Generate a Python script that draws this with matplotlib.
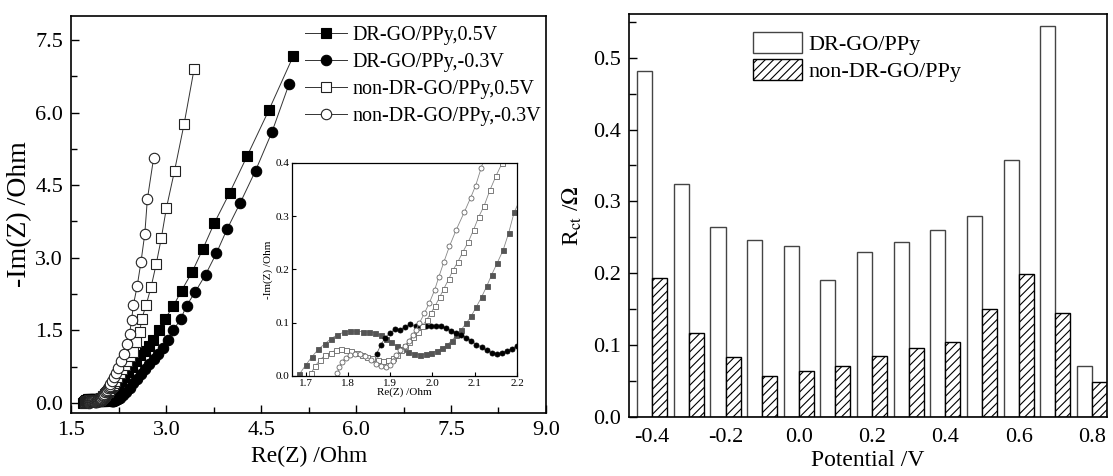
import numpy as np
import matplotlib
matplotlib.use('Agg')
import matplotlib.pyplot as plt

plt.rcParams['font.family'] = ['Liberation Serif', 'DejaVu Serif']
plt.rcParams['mathtext.fontset'] = 'stix'
plt.rcParams['axes.unicode_minus'] = False
plt.rcParams['hatch.linewidth'] = 0.8

# ---- left panel: Nyquist data (Re(Z), -Im(Z)) ----
dr_05_x = [1.685, 1.70, 1.715, 1.73, 1.745, 1.76, 1.775, 1.79, 1.805, 1.82, 1.835, 1.85, 1.865,
           1.878, 1.89, 1.902, 1.915, 1.928, 1.942, 1.956, 1.97, 1.984, 1.997, 2.01, 2.022, 2.034,
           2.045, 2.056, 2.068, 2.08, 2.092, 2.104, 2.116, 2.128, 2.14, 2.153, 2.167, 2.18, 2.193,
           2.23, 2.28, 2.33, 2.39, 2.45, 2.52, 2.59, 2.66, 2.72,
           2.79, 2.88, 2.98, 3.11, 3.24, 3.41, 3.58, 3.76, 4.00, 4.28, 4.62, 5.01]
dr_05_y = [0.003, 0.02, 0.036, 0.05, 0.06, 0.07, 0.077, 0.082, 0.084, 0.084, 0.083, 0.082, 0.081,
           0.076, 0.070, 0.063, 0.056, 0.050, 0.045, 0.042, 0.040, 0.041, 0.043, 0.047, 0.052, 0.058,
           0.066, 0.076, 0.087, 0.099, 0.113, 0.130, 0.148, 0.168, 0.190, 0.212, 0.236, 0.268, 0.307,
           0.37, 0.45, 0.54, 0.64, 0.74, 0.86, 0.98, 1.08, 1.18,
           1.30, 1.50, 1.74, 2.00, 2.32, 2.71, 3.19, 3.72, 4.34, 5.11, 6.05, 7.18]

dr_m03_x = [1.868, 1.878, 1.888, 1.900, 1.912, 1.924, 1.936, 1.948, 1.960, 1.972, 1.984, 1.996,
            2.008, 2.020, 2.032, 2.044, 2.056, 2.068, 2.080, 2.092, 2.104, 2.116, 2.128, 2.140,
            2.152, 2.164, 2.176, 2.188, 2.200,
            2.23, 2.27, 2.32, 2.37, 2.42, 2.48, 2.54, 2.60, 2.66, 2.73, 2.80, 2.87, 2.94,
            3.03, 3.11, 3.23, 3.32, 3.46, 3.62, 3.79, 3.96, 4.17, 4.41, 4.67, 4.94]
dr_m03_y = [0.042, 0.058, 0.072, 0.081, 0.088, 0.087, 0.092, 0.097, 0.093, 0.094, 0.094, 0.094,
            0.094, 0.093, 0.090, 0.085, 0.081, 0.077, 0.072, 0.066, 0.059, 0.054, 0.048, 0.044,
            0.042, 0.043, 0.047, 0.051, 0.057,
            0.07, 0.10, 0.16, 0.23, 0.31, 0.40, 0.50, 0.60, 0.70, 0.80, 0.90, 1.01, 1.14,
            1.30, 1.50, 1.74, 2.01, 2.30, 2.65, 3.09, 3.59, 4.14, 4.80, 5.60, 6.59]

non_05_x = [1.713, 1.722, 1.734, 1.746, 1.759, 1.771, 1.784, 1.796, 1.808, 1.821, 1.833, 1.845,
            1.858, 1.870, 1.882, 1.895, 1.906, 1.915, 1.925, 1.936, 1.944, 1.955, 1.965, 1.975,
            1.986, 1.996, 2.006, 2.017, 2.027, 2.038, 2.048, 2.060, 2.072, 2.085, 2.097, 2.109,
            2.122, 2.136, 2.150, 2.165,
            2.19, 2.22, 2.26, 2.30, 2.34, 2.38, 2.42, 2.47,
            2.52, 2.58, 2.61, 2.68, 2.76, 2.84, 2.92, 3.00, 3.13, 3.28, 3.44]
non_05_y = [0.005, 0.018, 0.030, 0.039, 0.044, 0.048, 0.050, 0.049, 0.047, 0.044, 0.039, 0.036,
            0.033, 0.030, 0.029, 0.030, 0.033, 0.039, 0.048, 0.056, 0.064, 0.074, 0.083, 0.093,
            0.105, 0.118, 0.131, 0.148, 0.164, 0.181, 0.198, 0.214, 0.233, 0.252, 0.274, 0.298,
            0.319, 0.349, 0.375, 0.400,
            0.46, 0.53, 0.61, 0.69, 0.78, 0.87, 0.96, 1.05,
            1.26, 1.47, 1.73, 2.02, 2.40, 2.87, 3.40, 4.02, 4.80, 5.76, 6.91]

non_m03_x = [1.775, 1.780, 1.786, 1.795, 1.805, 1.817, 1.829, 1.841, 1.854, 1.866, 1.878, 1.889,
             1.899, 1.906, 1.914, 1.924, 1.934, 1.944, 1.953, 1.961, 1.969, 1.981, 1.992, 2.005,
             2.015, 2.027, 2.040, 2.056, 2.075, 2.090, 2.102, 2.115,
             2.14, 2.17, 2.20, 2.24, 2.28,
             2.33, 2.38, 2.42, 2.45, 2.48, 2.54, 2.60, 2.66, 2.70, 2.80]
non_m03_y = [0.005, 0.016, 0.027, 0.034, 0.039, 0.041, 0.041, 0.038, 0.030, 0.022, 0.018, 0.016,
             0.020, 0.029, 0.039, 0.049, 0.056, 0.066, 0.077, 0.086, 0.099, 0.118, 0.136, 0.161,
             0.186, 0.214, 0.243, 0.274, 0.307, 0.334, 0.357, 0.390,
             0.45, 0.53, 0.62, 0.73, 0.86,
             1.02, 1.21, 1.43, 1.71, 2.03, 2.42, 2.92, 3.50, 4.21, 5.07]

labels_left = ['DR-GO/PPy,0.5V', 'DR-GO/PPy,-0.3V', 'non-DR-GO/PPy,0.5V', 'non-DR-GO/PPy,-0.3V']

# ---- right panel: charge transfer resistance ----
potential = [-0.4, -0.3, -0.2, -0.1, 0.0, 0.1, 0.2, 0.3, 0.4, 0.5, 0.6, 0.7, 0.8]
rct_dr = [0.481, 0.324, 0.264, 0.246, 0.238, 0.191, 0.229, 0.243, 0.260, 0.280, 0.357, 0.544, 0.070]
rct_non = [0.193, 0.117, 0.083, 0.056, 0.064, 0.071, 0.084, 0.095, 0.104, 0.150, 0.199, 0.145, 0.049]

fig = plt.figure(figsize=(11.13, 4.76), dpi=100)
fmt = matplotlib.ticker.FormatStrFormatter('%.1f')

# left panel
ax1 = fig.add_axes([0.0642, 0.1324, 0.4262, 0.834])
series = [(dr_05_x, dr_05_y, 's', 'k', 'k'),
          (dr_m03_x, dr_m03_y, 'o', 'k', 'k'),
          (non_05_x, non_05_y, 's', 'white', '#222222'),
          (non_m03_x, non_m03_y, 'o', 'white', '#222222')]
for (x, y, m, fc, ec), lab in zip(series, labels_left):
    ax1.plot(x, y, '-', color='#333333', lw=0.7, marker=m, ms=7.5, mfc=fc, mec=ec, mew=0.8,
             label=lab)
ax1.set_xlim(1.5, 9.0)
ax1.set_ylim(-0.21, 8.0)
ax1.set_xticks([1.5, 3.0, 4.5, 6.0, 7.5, 9.0])
ax1.set_xticks(np.arange(2.25, 9.0, 1.5), minor=True)
ax1.set_yticks([0.0, 1.5, 3.0, 4.5, 6.0, 7.5])
ax1.set_yticks(np.arange(0.75, 8.0, 1.5), minor=True)
ax1.xaxis.set_major_formatter(fmt)
ax1.yaxis.set_major_formatter(fmt)
ax1.tick_params(which='both', direction='in', labelsize=16, top=False, right=False, width=1)
ax1.tick_params(which='major', length=6, pad=6)
ax1.tick_params(which='minor', length=4)
for s in ax1.spines.values():
    s.set_linewidth(1.2)
ax1.set_xlabel('Re(Z) /Ohm', fontsize=17, labelpad=4)
ax1.set_ylabel('-Im(Z) /Ohm', fontsize=20, labelpad=2)
ax1.legend(loc='upper left', bbox_to_anchor=(0.4925, 0.976), frameon=False, fontsize=14.5,
           handlelength=2.1, handletextpad=0.25, labelspacing=0.4, borderpad=0,
           borderaxespad=0, numpoints=1)

# inset
axi = fig.add_axes([0.2624, 0.2101, 0.2022, 0.4481])
inset_style = [('s', '#555555', '#555555', '#888888'),
               ('o', 'k', 'k', '#666666'),
               ('s', 'white', '#666666', '#888888'),
               ('o', 'white', '#666666', '#888888')]
for (x, y, _, _, _), (m, fc, ec, lc) in zip(series, inset_style):
    axi.plot(x, y, '-', color=lc, lw=0.6, marker=m, ms=3.6, mfc=fc, mec=ec, mew=0.6)
axi.set_xlim(1.668, 2.2)
axi.set_ylim(0.0, 0.4)
axi.set_xticks([1.7, 1.8, 1.9, 2.0, 2.1, 2.2])
axi.set_yticks([0.0, 0.1, 0.2, 0.3, 0.4])
axi.xaxis.set_major_formatter(fmt)
axi.yaxis.set_major_formatter(fmt)
axi.tick_params(direction='in', labelsize=8, length=3, width=0.8, pad=2)
for s in axi.spines.values():
    s.set_linewidth(0.9)
axi.set_xlabel('Re(Z) /Ohm', fontsize=8, labelpad=0)
axi.set_ylabel('-Im(Z) /Ohm', fontsize=8, labelpad=2)

# right panel
ax2 = fig.add_axes([0.5651, 0.1246, 0.4292, 0.846])
w = 0.041
pos = np.array(potential)
ax2.bar(pos - w / 2, rct_dr, width=w, color='white', edgecolor='#444444', lw=1.0,
        label='DR-GO/PPy')
ax2.bar(pos + w / 2, rct_non, width=w, color='white', edgecolor='black', lw=1.0,
        hatch='////', label='non-DR-GO/PPy')
ax2.set_xlim(-0.4635, 0.84)
ax2.set_ylim(0.0, 0.561)
ax2.set_xticks([-0.4, -0.2, 0.0, 0.2, 0.4, 0.6, 0.8])
ax2.set_yticks([0.0, 0.1, 0.2, 0.3, 0.4, 0.5])
ax2.set_yticks(np.arange(0.05, 0.56, 0.1), minor=True)
ax2.xaxis.set_major_formatter(fmt)
ax2.yaxis.set_major_formatter(fmt)
ax2.tick_params(axis='x', length=0, labelsize=16, pad=8)
ax2.tick_params(axis='y', which='both', direction='in', labelsize=16, width=1, right=False)
ax2.tick_params(axis='y', which='major', length=6, pad=6)
ax2.tick_params(axis='y', which='minor', length=5)
for s in ax2.spines.values():
    s.set_linewidth(1.2)
ax2.set_xlabel('Potential /V', fontsize=17, labelpad=2)
ax2.set_ylabel(r'R$_{\rm ct}$ /$\Omega$', fontsize=17, labelpad=6)
ax2.legend(loc='upper left', bbox_to_anchor=(0.26, 0.956), frameon=False, fontsize=16,
           handlelength=2.2, handleheight=1.1, handletextpad=0.3, labelspacing=0.17,
           borderpad=0, borderaxespad=0)

fig.savefig('out.png', dpi=100)
